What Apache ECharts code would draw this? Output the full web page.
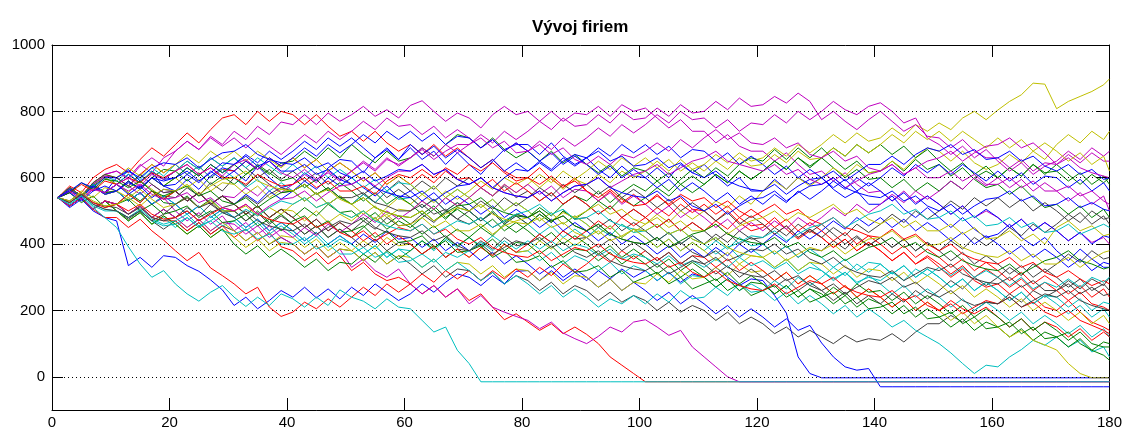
<!DOCTYPE html>
<html>
<head>
<meta charset="utf-8">
<title>Vývoj firiem</title>
<script src="https://cdn.jsdelivr.net/npm/echarts@6/dist/echarts.min.js"></script>
<style>
html, body { margin: 0; padding: 0; background: #fff; }
#chart { width: 1125px; height: 433px; }
</style>
</head>
<body>
<div id="chart"></div>
<script>
// days sampled every 2 steps, last one is 180
var days = [1,3,5,7,9,11,13,15,17,19, 21,23,25,27,29,31,33,35,37,39, 41,43,45,47,49,51,53,55,57,59,
    61,63,65,67,69,71,73,75,77,79, 81,83,85,87,89,91,93,95,97,99, 101,103,105,107,109,111,113,115,117,119,
    121,123,125,127,129,131,133,135,137,139, 141,143,145,147,149,151,153,155,157,159, 161,163,165,167,169,171,173,175,177,179, 180];

var xTicks = [0, 20, 40, 60, 80, 100, 120, 140, 160, 180];
var yTicks = [0, 200, 400, 600, 800, 1000];
var yGrid = [0, 200, 400, 600, 800];

var firm1 = [540,570,545,580,555,600,625,590,615,575, 560,595,565,605,630,620,590,635,600,570, 580,615,590,630,655,650,615,660,690,655,
    690,655,680,640,675,640,610,650,685,700, 700,670,705,665,640,660,625,600,635,605, 600,630,600,640,615,640,605,575,600,560,
    560,595,565,600,580,600,565,540,560,520, 520,545,505,480,510,480,450,480,445,420, 430,460,420,395,420,380,350,385,355,330, 330];
var firm2 = [540,565,540,575,600,580,555,530,560,525, 520,545,510,535,500,500,470,500,465,490, 460,430,455,420,445,420,450,480,445,470,
    450,480,505,475,510,500,470,500,465,490, 480,510,485,520,545,530,560,525,555,580, 560,590,560,595,625,600,630,605,640,660,
    650,685,655,690,660,690,655,625,650,615, 620,650,620,655,625,640,605,630,595,570, 580,550,575,540,510,520,490,515,480,505, 480];
var firm3 = [540,575,555,600,625,640,615,655,690,665, 700,735,705,745,780,790,760,800,770,800, 790,760,790,755,725,740,710,740,705,680,
    700,670,700,665,690,660,630,655,620,600, 600,630,595,570,600,560,530,560,525,550, 520,550,515,540,505,500,470,500,465,440,
    450,480,445,415,440,420,390,415,380,405, 380,350,375,340,360,330,300,325,290,270, 280,250,275,240,210,200,230,195,165,150, 140];
var firm4 = [540,520,545,510,480,450,392,340,300,320, 280,250,228,255,275,240,212,240,215,250, 235,210,240,215,262,240,228,205,235,210,
    205,170,135,150,80,40,-15,-15,-15,-15, -15,-15,-15,-15,-15,-15,-15,-15,-15,-15, -15,-15,-15,-15,-15,-15,-15,-15,-15,-15,
    -15,-15,-15,-15,-15,-15,-15,-15,-15,-15, -15,-15,-15,-15,-15,-15,-15,-15,-15,-15, -15,-15,-15,-15,-15,-15,-15,-15,-15,-15, -15];
var firm5 = [540,570,545,585,610,620,600,640,615,660, 680,710,685,725,700,740,715,755,730,768, 760,790,760,795,770,790,815,785,805,780,
    818,832,800,770,795,780,750,790,815,790, 800,770,800,770,795,790,815,785,820,800, 810,780,750,775,740,740,705,730,695,680,
    680,650,675,640,610,620,590,615,580,555, 560,530,560,525,545,520,490,515,480,500, 480,450,475,440,465,440,410,435,405,420, 400];
var firm6 = [540,565,545,580,600,580,555,590,565,540, 560,530,555,520,545,520,490,515,480,505, 500,470,500,465,490,470,500,475,510,540,
    520,550,525,560,535,560,590,565,600,580, 600,570,600,565,595,580,610,585,620,600, 620,650,620,655,625,640,670,645,675,650,
    660,690,665,700,675,700,730,705,735,710, 720,750,725,760,740,765,745,780,800,775, 804,830,850,885,882,808,830,845,860,880, 898];
var firm7 = [540,515,540,505,530,500,475,500,470,445, 470,440,465,430,455,440,410,435,400,420, 400,370,395,360,385,380,350,375,340,365,
    340,310,335,300,325,320,290,315,280,305, 290,260,285,250,275,260,230,255,225,245, 230,200,225,195,215,200,170,195,160,180,
    160,130,150,120,140,120,100,125,105,115, 110,130,105,135,160,160,185,165,200,225, 220,250,225,260,240,260,290,265,295,275, 300];
var firm8 = [540,510,535,500,480,470,335,360,330,365, 360,335,318,292,262,215,240,205,230,260, 240,270,238,265,235,270,245,280,255,230,
    250,280,255,285,310,300,275,305,280,318, 320,290,320,290,315,290,320,295,325,300, 320,290,315,285,310,300,330,300,275,295,
    290,245,192,60,10,-3,-3,-3,-3,-3, -3,-3,-3,-3,-3,-3,-3,-3,-3,-3, -3,-3,-3,-3,-3,-3,-3,-3,-3,-3, -3];
var firm9 = [540,565,540,575,550,560,590,565,600,625, 620,590,615,580,605,580,610,635,610,644, 650,680,655,690,660,700,670,645,680,650,
    660,690,665,700,730,720,690,720,685,660, 680,650,680,645,670,640,615,640,605,630, 620,590,615,580,605,580,610,585,620,595,
    620,650,625,660,630,660,630,600,625,595, 600,570,595,560,585,560,590,565,600,620, 600,630,605,640,610,640,610,580,610,585, 600];
var firm10 = [540,515,540,505,530,520,490,515,480,470, 470,440,465,430,455,420,445,410,435,392, 380,350,375,340,365,320,345,310,290,300,
    280,250,275,240,265,230,250,210,172,190, 165,140,160,130,150,128,100,60,35,10, -15,-15,-15,-15,-15,-15,-15,-15,-15,-15,
    -15,-15,-15,-15,-15,-15,-15,-15,-15,-15, -15,-15,-15,-15,-15,-15,-15,-15,-15,-15, -15,-15,-15,-15,-15,-15,-15,-15,-15,-15, -15];
var firm11 = [540,515,540,505,530,500,470,495,460,480, 450,480,450,485,455,470,440,465,430,455, 430,400,425,390,415,400,370,395,360,385,
    380,410,380,415,390,420,395,425,400,375, 380,350,375,340,365,350,320,345,310,335, 320,290,315,280,305,300,270,295,260,280,
    260,230,255,220,245,220,190,215,180,205, 180,150,170,140,120,100,72,40,10,35, 30,60,82,110,95,120,90,110,75,90, 60];
var firm12 = [540,565,540,575,550,560,530,555,520,540, 500,470,495,460,485,440,465,430,455,420, 400,370,395,360,385,330,355,320,300,325,
    280,250,275,240,265,220,245,210,195,182, 170,145,165,132,115,100,122,150,135,165, 172,150,125,140,90,60,30,0,-15,-15,
    -15,-15,-15,-15,-15,-15,-15,-15,-15,-15, -15,-15,-15,-15,-15,-15,-15,-15,-15,-15, -15,-15,-15,-15,-15,-15,-15,-15,-15,-15, -15];
var firm13 = [540,515,540,505,530,520,490,515,480,505, 480,450,475,440,465,440,410,435,400,425, 420,390,415,380,405,380,410,385,420,395,
    400,370,395,360,385,360,390,365,400,375, 380,410,385,420,395,420,450,425,460,435, 460,490,465,500,475,500,530,510,545,520,
    560,590,565,600,575,600,630,605,640,615, 620,650,625,660,690,680,650,680,645,625, 640,670,645,680,655,700,730,705,740,715, 740];
var firm14 = [540,570,545,580,555,560,530,555,520,545, 540,570,545,585,560,600,575,610,580,555, 560,530,555,520,545,520,550,525,560,590,
    560,590,565,600,575,600,570,545,575,540, 560,530,555,520,545,520,490,515,480,505, 480,450,475,440,465,440,410,435,400,420,
    400,370,395,360,385,380,410,385,420,395, 420,390,415,380,405,380,350,375,340,365, 340,310,335,300,325,300,270,295,260,280, 260];
var firm15 = [540,565,540,575,550,560,530,555,520,545, 520,490,515,480,505,480,450,475,440,465, 440,410,435,400,425,400,430,405,440,415,
    420,390,415,380,405,380,350,375,340,365, 340,310,335,300,325,300,270,295,260,285, 260,230,255,220,245,220,190,215,180,205,
    180,150,175,140,155,102,60,30,20,25, -30,-30,-30,-30,-30,-30,-30,-30,-30,-30, -30,-30,-30,-30,-30,-30,-30,-30,-30,-30, -30];
var firm16 = [540,515,540,505,530,520,550,525,560,535, 560,530,555,520,545,520,490,515,480,505, 480,510,485,520,495,500,470,495,460,485,
    460,430,455,420,445,420,390,415,380,405, 400,370,395,360,385,380,350,375,340,365, 340,310,335,300,325,300,270,295,260,285,
    280,250,275,240,265,250,220,245,210,235, 220,190,215,180,205,180,150,175,140,165, 150,120,145,110,135,120,90,115,80,105, 100];
var firm17 = [540,570,545,580,605,600,575,610,640,615, 640,610,635,600,625,620,650,625,660,635, 660,630,655,620,645,620,590,615,580,605,
    580,610,585,620,595,600,570,595,560,585, 560,530,555,520,545,520,490,515,480,505, 480,450,475,440,465,440,470,445,480,455,
    460,430,455,420,445,420,390,415,380,405, 380,350,375,340,365,340,310,335,300,325, 300,270,295,260,285,260,230,255,220,210, 200];
var firm18 = [540,570,545,580,605,590,620,595,630,605, 640,610,635,600,625,600,570,595,560,585, 560,530,555,520,545,520,550,525,560,535,
    540,510,535,500,525,500,470,495,460,485, 460,430,455,420,445,420,450,425,460,435, 440,410,435,400,425,400,370,395,360,385,
    360,330,355,320,345,320,290,315,280,305, 280,250,275,240,265,240,210,235,200,225, 200,170,195,160,185,160,130,155,120,145, 120];
var firm19 = [540,570,545,580,605,600,575,550,580,555, 560,530,555,520,545,540,570,545,580,555, 580,610,585,620,595,620,650,625,660,635,
    660,690,665,700,675,700,730,705,740,715, 740,770,745,780,755,760,790,765,800,775, 780,810,785,820,795,800,830,805,840,815,
    820,845,825,855,830,775,800,770,745,775, 800,770,740,760,725,720,690,715,680,660, 660,630,655,620,645,640,670,645,675,650, 650];
var firm20 = [540,515,540,505,530,500,470,495,460,485, 460,430,455,420,445,420,390,415,380,405, 400,370,395,360,385,380,350,375,340,365,
    360,330,355,320,345,340,310,335,300,325, 320,290,315,280,305,300,270,295,260,285, 280,310,285,320,295,300,330,305,340,315,
    320,290,315,280,305,280,250,275,240,265, 240,210,235,200,225,200,170,195,160,185, 150,120,140,110,96,81,40,10,-3,-3, -3];
var firm21 = [540,570,545,580,555,580,610,585,620,595, 620,650,625,660,635,660,630,600,625,595, 620,590,615,580,605,580,550,575,540,565,
    540,510,535,500,525,500,470,495,460,485, 460,490,465,500,475,480,450,475,440,465, 440,410,435,400,425,400,430,405,440,415,
    420,450,425,460,435,460,430,400,425,395, 420,390,415,380,405,380,410,385,420,395, 420,450,425,460,435,460,490,465,500,475, 480];
var firm22 = [540,570,545,580,555,580,610,585,620,595, 600,630,605,640,615,640,670,645,680,655, 680,710,685,720,695,720,690,660,685,655,
    700,670,695,660,685,660,630,655,620,645, 620,650,625,660,635,660,690,665,700,675, 700,670,695,660,685,680,650,675,640,665,
    640,610,635,600,625,600,570,595,560,585, 560,530,555,520,545,520,490,515,480,505, 480,450,475,440,465,440,410,435,400,425, 420];
var firm23 = [540,515,540,505,530,500,470,495,460,485, 460,430,455,420,445,400,370,395,360,385, 360,330,355,320,345,340,370,345,380,355,
    380,410,385,420,395,420,450,425,460,435, 460,490,465,500,475,500,530,505,540,515, 540,570,545,580,555,580,610,585,620,595,
    620,650,625,660,635,660,690,665,700,675, 700,670,695,660,685,650,620,645,610,635, 600,630,605,640,615,620,590,615,580,605, 580];
var firm24 = [540,515,540,505,480,480,450,475,440,412, 380,350,375,328,305,280,250,270,210,182, 195,225,205,235,210,240,270,245,280,255,
    280,310,285,320,295,320,290,320,295,325, 300,330,305,340,315,340,370,345,380,355, 380,350,375,340,365,360,330,355,320,345,
    320,290,315,280,305,280,250,275,240,265, 240,210,235,200,225,200,230,205,190,210, 180,150,175,140,165,150,120,145,110,135, 120];
var firm25 = [540,565,540,575,550,560,530,555,520,545, 520,490,515,480,505,480,450,475,440,465, 440,410,435,400,425,400,370,395,360,385,
    360,330,355,320,345,320,290,315,280,305, 280,250,275,240,265,240,210,235,220,245, 220,250,225,260,235,240,270,245,280,255,
    260,290,265,300,275,300,330,305,340,315, 340,310,335,300,325,300,270,295,260,285, 260,230,255,220,245,220,190,215,180,205, 180];
var firm26 = [540,570,545,585,610,620,595,635,660,635, 680,710,685,720,695,720,690,720,695,670, 700,730,705,740,715,740,770,745,780,755,
    760,730,755,720,745,720,690,715,680,705, 680,710,685,720,695,720,750,725,760,735, 760,790,765,800,775,780,750,775,740,765,
    760,790,765,800,775,800,830,805,790,815, 826,800,765,780,720,700,670,695,660,685, 650,620,645,610,635,650,680,655,690,665, 680];
var firm27 = [540,565,540,575,550,560,590,565,600,575, 600,570,595,560,585,580,550,575,540,565, 560,530,555,520,545,520,490,515,480,505,
    500,530,505,540,515,540,570,545,580,555, 580,610,585,620,595,620,650,625,660,635, 660,630,655,620,645,620,650,625,660,635,
    640,670,645,680,655,660,690,665,700,675, 700,730,705,740,715,740,710,740,715,690, 720,690,715,680,705,680,650,675,640,665, 620];
var firm28 = [540,515,540,505,530,520,490,515,480,505, 480,510,485,520,495,500,470,495,460,485, 460,430,455,420,445,420,390,415,380,405,
    400,370,395,360,385,380,410,385,420,395, 400,430,405,440,415,420,390,415,380,405, 380,350,375,340,365,340,310,335,300,325,
    300,270,295,260,285,260,230,255,220,245, 220,250,225,260,235,260,290,265,300,275, 300,330,305,340,315,340,370,345,380,355, 360];
var firm29 = [540,570,545,580,555,580,550,575,540,565, 560,530,555,520,545,520,550,525,560,535, 560,590,565,600,575,600,570,545,575,540,
    560,530,555,520,545,520,490,515,480,505, 480,450,475,440,465,440,410,435,400,425, 400,370,395,360,385,360,390,365,400,375,
    400,430,405,440,415,440,470,445,480,455, 480,450,475,440,465,440,410,435,400,425, 400,370,395,360,385,360,330,355,320,345, 340];
var firm30 = [540,570,545,580,555,560,590,565,600,575, 600,630,605,640,615,640,610,640,615,590, 600,570,595,560,585,560,530,555,520,545,
    520,490,515,480,505,480,450,475,440,465, 440,410,435,400,425,400,370,395,360,385, 360,330,355,320,345,320,290,315,280,305,
    280,250,275,240,265,240,270,245,280,255, 260,230,255,220,245,220,190,215,180,205, 180,150,175,140,165,140,110,135,100,90, 90];
var firm31 = [540,515,540,505,530,520,550,525,560,535, 560,530,555,520,545,520,490,515,480,505, 480,450,475,440,465,440,410,435,400,425,
    400,370,395,360,385,360,390,365,400,375, 400,430,405,440,415,440,470,445,480,455, 480,510,485,520,495,520,490,515,480,505,
    480,450,475,440,465,440,410,435,400,425, 400,370,395,360,385,360,330,355,320,345, 320,290,315,280,305,280,250,275,240,265, 240];
var firm32 = [540,570,545,580,555,580,610,585,620,595, 620,650,625,660,635,660,630,660,635,610, 640,610,635,600,625,600,570,595,560,585,
    580,550,575,540,565,540,510,535,500,525, 500,470,495,460,485,460,430,455,420,445, 420,390,415,380,405,380,410,385,420,395,
    400,370,395,360,385,360,330,355,320,345, 340,310,335,300,325,300,270,295,260,285, 260,230,255,220,245,240,210,235,200,225, 220];
var firm33 = [540,515,540,505,530,520,490,515,480,505, 480,450,475,440,465,460,430,455,420,445, 420,450,425,460,435,460,490,465,500,475,
    500,530,505,540,515,540,570,545,580,555, 580,550,575,540,565,560,530,555,520,545, 520,490,515,480,505,480,450,475,440,465,
    440,470,445,480,455,480,510,485,520,495, 520,550,525,560,535,560,590,565,600,575, 600,570,595,560,585,560,530,555,520,545, 500];
var firm34 = [540,570,545,585,610,600,630,605,640,615, 640,670,645,680,655,680,650,680,655,630, 660,630,655,620,645,620,590,615,580,605,
    580,550,575,540,565,540,510,535,500,525, 500,470,495,460,485,460,430,455,420,445, 420,390,415,380,405,380,350,375,340,365,
    360,330,355,320,345,340,310,335,300,325, 320,290,315,280,305,280,250,275,240,265, 240,210,235,200,225,200,170,195,160,185, 160];
var firm35 = [540,570,545,585,610,600,575,610,580,555, 560,530,555,520,545,520,490,515,480,505, 480,450,475,440,465,440,470,445,480,455,
    460,490,465,500,475,500,530,505,540,515, 540,570,545,580,555,580,550,575,540,565, 540,510,535,500,525,500,470,495,460,485,
    460,430,455,420,445,420,450,425,460,435, 460,490,465,500,475,500,530,505,540,515, 540,510,535,500,525,500,470,495,460,485, 460];
var firm36 = [540,565,540,575,550,560,590,565,600,575, 580,610,585,620,595,620,650,625,660,635, 660,690,665,700,675,700,730,705,740,715,
    740,710,735,700,725,720,690,715,680,705, 680,650,675,640,665,640,610,635,600,625, 600,570,595,560,585,560,530,555,520,545,
    520,550,525,560,535,560,590,565,600,575, 600,630,605,640,615,640,610,640,615,590, 620,590,615,580,605,600,570,595,560,585, 560];
var firm37 = [540,555,525,545,510,520,535,500,520,490, 500,515,480,500,465,470,490,455,475,440, 470,485,450,470,435,440,455,420,440,405,
    410,425,390,410,375,380,395,360,380,345, 350,365,330,350,315,320,335,300,320,285, 300,315,280,300,265,280,295,260,280,245,
    260,275,240,260,225,240,255,220,240,205, 210,225,190,210,175,180,195,160,180,145, 150,165,130,150,115,120,135,100,80,65, 50];
var firm38 = [540,555,580,560,590,580,600,585,615,600, 620,640,610,630,600,600,580,610,590,575, 580,600,570,590,560,560,575,550,590,610,
    600,625,600,630,610,640,620,645,615,590, 600,580,605,575,590,560,540,565,535,515, 520,545,520,550,530,540,510,530,500,480,
    500,520,490,505,475,460,480,450,440,425, 420,445,415,430,400,380,400,370,355,345, 340,360,330,345,315,300,320,295,275,290, 280];
var firm39 = [540,525,550,520,505,500,480,505,475,460, 470,490,455,470,440,430,445,415,430,400, 400,420,385,400,370,370,390,360,375,345,
    350,370,345,375,360,380,405,380,410,385, 410,385,410,380,400,390,365,385,355,370, 360,340,365,335,350,330,355,330,360,335,
    350,325,345,310,330,320,295,315,285,300, 290,315,290,325,305,330,305,330,300,320, 300,275,300,265,285,270,295,270,300,285, 300];
var firm40 = [540,560,535,570,555,580,600,575,610,595, 620,640,610,630,605,640,655,625,650,615, 600,625,595,615,590,620,645,620,655,640,
    660,685,655,680,700,700,720,690,710,675, 680,700,670,690,655,640,665,640,670,660, 680,705,680,715,690,720,745,715,735,705,
    700,720,690,705,670,660,680,650,665,630, 620,640,610,630,600,600,620,590,610,580, 580,600,570,590,560,560,575,545,560,530, 520];
var firm41 = [540,530,560,540,570,560,540,565,535,510, 520,540,510,530,500,500,515,485,510,490, 520,540,510,525,495,480,500,470,490,455,
    460,480,450,470,440,440,460,430,455,470, 480,500,470,495,480,500,520,490,505,475, 460,480,450,470,440,440,460,430,455,470,
    480,500,470,495,480,500,520,490,505,475, 460,480,450,470,440,440,460,430,450,415, 420,440,410,430,400,450,470,440,455,425, 430];
var firm42 = [540,530,555,525,515,510,490,510,480,470, 480,500,470,495,510,520,545,520,550,570, 560,580,550,570,540,540,555,525,515,500,
    500,520,490,505,475,460,480,450,470,490, 480,500,470,485,455,440,460,430,415,405, 400,420,390,405,375,360,380,350,365,385,
    380,400,370,385,355,340,360,330,315,305, 300,320,290,310,330,320,340,310,295,285, 280,300,270,290,260,260,280,250,270,245, 250];
var firm43 = [540,555,530,560,575,560,585,570,600,590, 600,620,590,615,645,640,665,635,650,620, 620,640,610,625,595,580,600,570,555,545,
    540,560,530,555,575,580,600,570,600,625, 620,645,620,650,670,660,680,650,665,635, 640,660,630,645,615,600,620,590,575,565,
    560,580,550,575,595,600,620,590,615,640, 640,665,640,670,690,680,700,670,685,655, 660,680,650,665,635,620,640,610,625,595, 600];
var firm44 = [540,555,585,565,595,590,570,590,560,545, 560,575,545,560,530,520,540,510,535,555, 560,580,550,570,540,520,540,510,495,485,
    480,500,470,495,515,520,540,510,495,485, 480,500,470,485,455,440,460,430,415,405, 400,420,390,410,430,440,460,430,415,405,
    400,420,390,405,375,360,380,350,370,390, 400,420,390,405,375,360,380,350,335,325, 320,340,310,330,350,360,380,350,340,325, 330];
var firm45 = [540,525,550,525,510,520,500,520,490,475, 480,500,470,490,510,500,520,490,475,465, 460,480,450,465,435,420,440,410,430,450,
    440,460,430,445,415,400,420,390,375,365, 360,380,350,370,390,380,400,370,355,345, 340,360,330,345,315,300,320,290,275,265,
    260,280,250,270,290,280,300,270,255,245, 240,260,230,245,215,200,220,190,210,230, 220,240,210,225,195,180,200,170,155,140, 130];
var firm46 = [540,520,545,515,500,500,480,500,470,455, 460,480,450,470,495,480,505,485,510,530, 520,540,510,525,495,480,500,470,455,445,
    440,460,430,450,470,460,480,450,470,490, 500,520,490,505,475,480,500,470,455,445, 440,460,430,445,415,400,420,390,405,425,
    420,440,410,430,450,460,480,450,470,490, 500,520,490,505,475,480,500,470,485,455, 460,480,450,465,435,440,460,430,445,460, 450];
var firm47 = [540,560,535,565,555,580,560,580,550,535, 540,555,525,540,510,500,520,490,515,535, 540,560,530,555,575,580,600,575,600,620,
    620,640,610,625,595,580,600,570,555,545, 540,560,530,555,575,580,600,570,590,610, 620,640,610,630,650,660,680,650,640,630,
    620,640,610,625,595,580,600,570,590,610, 620,640,610,630,650,660,680,650,675,695, 700,720,690,705,675,640,660,630,615,605, 600];
var firm48 = [540,530,555,530,515,520,540,515,545,565, 560,580,550,575,595,600,620,590,575,565, 560,580,550,565,535,520,540,510,495,485,
    480,500,470,490,510,500,520,490,475,465, 460,480,450,465,435,420,440,410,425,445, 440,460,430,445,415,400,420,390,375,365,
    360,380,350,370,390,380,400,370,395,415, 420,440,410,425,395,400,420,390,375,365, 360,380,350,370,340,340,360,330,355,375, 380];
var firm49 = [540,525,550,520,505,500,480,500,470,490, 520,540,510,525,495,480,500,470,455,445, 440,460,430,450,470,460,480,450,435,425,
    420,440,410,425,395,380,400,370,390,410, 400,420,390,405,375,360,380,350,335,325, 320,340,310,330,350,340,360,330,315,305,
    300,320,290,305,275,260,280,250,270,290, 280,300,270,285,255,240,260,230,215,225, 220,240,210,230,250,240,260,230,215,205, 200];
var firm50 = [540,560,585,570,600,600,620,600,630,645, 640,660,630,655,675,680,700,670,655,645, 640,660,630,645,615,600,620,590,605,625,
    620,640,610,625,595,580,600,570,555,545, 540,560,530,555,575,580,600,570,555,545, 540,560,530,545,515,500,520,490,515,535,
    540,560,530,555,575,580,600,570,555,545, 540,560,530,545,515,500,520,490,515,535, 540,560,530,545,515,520,540,510,525,505, 500];

var firms = [firm1, firm2, firm3, firm4, firm5, firm6, firm7, firm8, firm9, firm10,
    firm11, firm12, firm13, firm14, firm15, firm16, firm17, firm18, firm19, firm20,
    firm21, firm22, firm23, firm24, firm25, firm26, firm27, firm28, firm29, firm30,
    firm31, firm32, firm33, firm34, firm35, firm36, firm37, firm38, firm39, firm40,
    firm41, firm42, firm43, firm44, firm45, firm46, firm47, firm48, firm49, firm50];

// matlab default line colour order
var colors = ['#0000ff', '#008000', '#ff0000', '#00bfbf', '#bf00bf', '#bfbf00', '#404040'];

var font = 'Liberation Sans, Arial, sans-serif';

var series = [{
    type: 'line',
    data: [],
    silent: true,
    z: 1,
    markLine: {
        silent: true,
        symbol: 'none',
        animation: false,
        label: { show: false },
        lineStyle: { color: '#000', width: 1, type: [1, 3] },
        data: yGrid.map(function (v) { return { yAxis: v }; })
    }
}];

firms.forEach(function (vals, i) {
    series.push({
        type: 'line',
        data: vals.map(function (v, k) { return [days[k], v]; }),
        showSymbol: false,
        symbol: 'none',
        silent: true,
        z: i === 3 ? 4 : 2,
        lineStyle: { width: 1, color: colors[i % 7] }
    });
});

var axisLine = { show: true, onZero: false, lineStyle: { color: '#000', width: 1 } };
var tickStyle = { color: '#000', width: 1 };
var plain = function (v) { return String(v); };

var option = {
    animation: false,
    backgroundColor: '#fff',
    title: {
        text: 'Vývoj firiem',
        left: 527,
        top: 14,
        textStyle: { fontFamily: font, fontSize: 17, fontWeight: 'bold', color: '#000' }
    },
    grid: { left: 52, right: 14, top: 45, bottom: 23, containLabel: false },
    xAxis: [{
        type: 'value', min: 0, max: 180, interval: 20, position: 'bottom',
        axisLine: axisLine,
        axisTick: { show: true, inside: true, length: 12, lineStyle: tickStyle },
        axisLabel: { color: '#000', fontFamily: font, fontSize: 15, margin: 5, formatter: plain },
        splitLine: { show: false }
    }, {
        type: 'value', min: 0, max: 180, interval: 20, position: 'top',
        axisLine: axisLine,
        axisTick: { show: true, inside: true, length: 12, lineStyle: tickStyle },
        axisLabel: { show: false },
        splitLine: { show: false }
    }],
    yAxis: [{
        type: 'value', min: -100, max: 1000, position: 'left',
        axisLine: axisLine,
        axisTick: { show: true, inside: true, length: 11, customValues: yTicks, lineStyle: tickStyle },
        axisLabel: { color: '#000', fontFamily: font, fontSize: 15, margin: 7, customValues: yTicks, formatter: plain },
        splitLine: { show: false }
    }, {
        type: 'value', min: -100, max: 1000, position: 'right',
        axisLine: axisLine,
        axisTick: { show: true, inside: true, length: 13, customValues: yTicks, lineStyle: tickStyle },
        axisLabel: { show: false },
        splitLine: { show: false }
    }],
    series: series
};

var myChart = echarts.init(document.getElementById('chart'));
myChart.setOption(option);
</script>
</body>
</html>
